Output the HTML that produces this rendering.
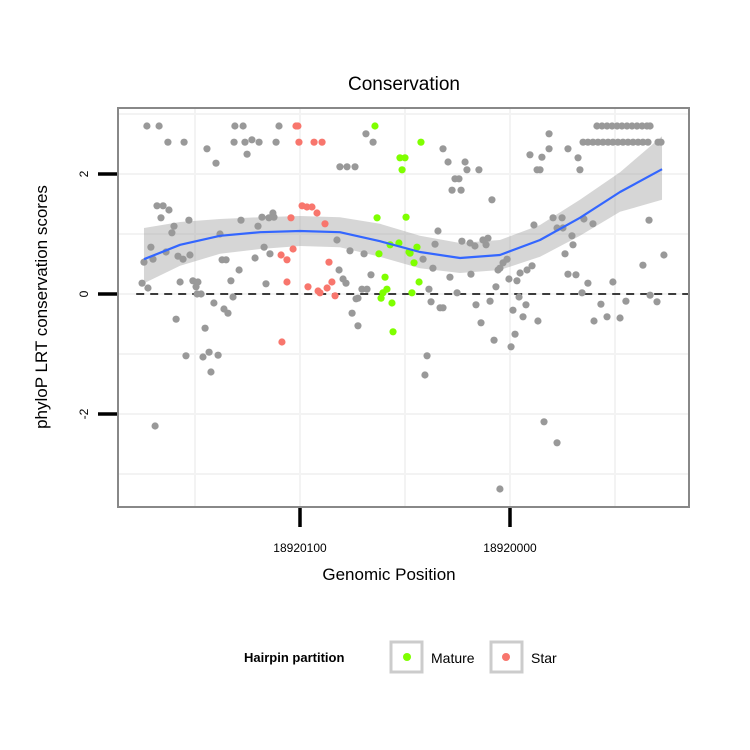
<!DOCTYPE html>
<html><head><meta charset="utf-8">
<style>
html,body{margin:0;padding:0;background:#fff;}
svg{display:block;font-family:"Liberation Sans",Arial,sans-serif;}
</style></head>
<body>
<svg id="chart" width="750" height="750" viewBox="0 0 750 750">
  <rect x="0" y="0" width="750" height="750" fill="#fff"/>
  <g id="grid"></g>
  <g id="band"></g>
  <line id="zeroline" stroke="#000" stroke-width="1.6" stroke-dasharray="8,6"/>
  <g id="pts"></g>
  <g id="fit"></g>
  <rect x="118" y="108" width="571" height="399" fill="none" stroke="#888" stroke-width="2"/>
  <g id="axes"></g>
  <text x="404" y="90" text-anchor="middle" font-size="19" fill="#000">Conservation</text>
  <text transform="translate(47,307) rotate(-90)" text-anchor="middle" font-size="17" fill="#000">phyloP LRT conservation scores</text>
  <text x="389" y="580" text-anchor="middle" font-size="17" fill="#000">Genomic Position</text>
  <g>
    <text x="244" y="662" font-size="13" font-weight="bold" fill="#000">Hairpin partition</text>
    <g>
      <rect x="391" y="642" width="31" height="30" fill="#fff" stroke="#ccc" stroke-width="3"/>
      <circle cx="407" cy="657" r="4" fill="#7FFF00"/>
      <text x="431" y="663" font-size="14" fill="#000">Mature</text>
    </g>
    <g>
      <rect x="491" y="642" width="31" height="30" fill="#fff" stroke="#ccc" stroke-width="3"/>
      <circle cx="506" cy="657" r="4" fill="#F8766D"/>
      <text x="531" y="663" font-size="14" fill="#000">Star</text>
    </g>
  </g>
</svg>
<script>
// positions are offsets from 18920000 (axis reversed)
const grayPos = [172.9,167.1,162.9,155.2,144.3,140.0,131.0,127.1,131.4,126.2,122.9,119.5,125.2,111.4,110.0,68.6,65.2,81.0,77.6,73.8,
168.1,165.2,162.4,166.2,152.9,160.0,161.0,171.0,174.3,170.0,163.8,158.1,155.7,152.4,138.1,128.1,120.0,118.1,114.8,112.9,112.4,117.1,114.3,121.4,137.1,135.2,129.0,132.9,116.2,175.2,172.4,157.1,151.0,148.6,149.5,149.0,147.1,131.9,141.0,136.2,134.3,159.0,145.2,154.3,146.2,143.3,139.0,142.4,169.0,
82.4,76.2,69.5,81.4,79.5,78.1,66.2,70.5,68.1,72.4,73.3,75.2,72.4,
31.9,29.5,21.4,20.5,14.8,26.2,24.3,27.6,23.3,8.6,-18.6,-18.6,-9.5,-15.2,-12.9,-14.3,-27.6,-32.4,-33.3,
-41.4,-43.8,-46.2,-48.6,-51.0,-53.3,-55.7,-58.1,-60.5,-62.9,-65.2,-66.7,
-34.8,-37.1,-39.5,-41.9,-44.3,-46.7,-49.0,-51.4,-53.8,-56.2,-58.6,-61.0,-63.3,-65.7,-70.5,-71.9,
34.3,35.7,41.4,36.7,28.6,38.6,37.6,33.3,31.9,25.2,18.6,16.2,13.8,7.6,39.5,40.5,22.9,19.0,16.7,12.9,10.5,11.4,1.4,3.3,4.8,5.7,6.7,9.5,0.5,-3.3,-4.8,-8.1,-10.5,-4.3,-7.6,-1.4,-6.2,-13.3,-2.4,-0.5,
-11.4,-20.5,-24.8,-22.4,-25.2,-29.5,-30.0,-26.2,-27.6,-31.4,-34.3,-35.2,-39.5,-37.1,-43.3,-40.0,-46.2,-52.4,-49.0,-55.2,-63.3,-66.2,-73.3,-66.7,-70.0,-16.2,-22.4,4.8];
const grayScore = [2.80,2.80,2.53,2.53,2.42,2.18,2.80,2.80,2.53,2.53,2.57,2.53,2.33,2.53,2.80,2.67,2.53,2.12,2.12,2.12,
1.47,1.47,1.40,1.27,1.23,1.13,1.02,0.78,0.53,0.58,0.70,0.63,0.58,0.65,1.00,1.23,1.13,1.28,1.27,1.35,1.28,0.78,0.67,0.60,0.57,0.57,0.40,0.22,0.17,0.18,0.10,0.20,0.22,0.20,0.12,0.00,0.00,-0.05,-0.15,-0.25,-0.32,-0.42,-0.57,-1.03,-1.05,-0.97,-1.02,-1.30,-2.20,
0.90,0.72,0.67,0.40,0.25,0.18,0.32,0.08,0.08,-0.07,-0.08,-0.32,-0.53,
2.42,2.20,2.20,2.07,2.07,1.92,1.92,1.73,1.73,1.57,2.67,2.42,2.32,2.28,2.07,2.07,2.42,2.27,2.07,
2.80,2.80,2.80,2.80,2.80,2.80,2.80,2.80,2.80,2.80,2.80,2.80,
2.53,2.53,2.53,2.53,2.53,2.53,2.53,2.53,2.53,2.53,2.53,2.53,2.53,2.53,2.53,2.53,
1.05,0.83,0.58,0.43,0.28,0.08,-0.13,-0.23,-0.23,0.02,0.33,-0.18,-0.48,-0.77,-1.03,-1.35,0.88,0.85,0.80,0.90,0.93,0.82,0.58,0.52,0.43,0.40,0.12,-0.12,0.25,0.22,0.35,0.40,0.47,-0.05,-0.18,-0.27,-0.38,-0.45,-0.67,-0.88,
1.15,1.27,1.27,1.10,1.10,0.97,0.82,0.67,0.33,0.32,0.02,1.25,1.17,0.18,-0.17,-0.45,-0.38,-0.40,0.20,-0.12,0.48,1.23,0.65,-0.02,-0.13,-2.13,-2.48,-3.25];
const starPos = [101.9,101.0,100.5,93.3,89.5,99.0,96.7,94.3,91.9,104.3,88.1,109.0,106.2,103.3,86.2,106.2,96.2,91.4,90.5,87.1,84.8,83.3,108.6];
const starScore = [2.80,2.80,2.53,2.53,2.53,1.47,1.45,1.45,1.35,1.27,1.17,0.65,0.57,0.75,0.53,0.20,0.12,0.05,0.02,0.10,0.20,-0.03,-0.80];
const maturePos = [64.3,52.4,50.0,51.4,63.3,49.5,62.4,57.1,52.9,59.5,58.6,60.5,61.4,56.2,55.7,48.1,42.4,44.3,47.6,45.7,43.3,46.7];
const matureScore = [2.80,2.27,2.27,2.07,1.27,1.28,0.67,0.82,0.85,0.28,0.08,0.02,-0.07,-0.15,-0.63,0.70,2.53,0.78,0.68,0.52,0.20,0.02];
const fitPos = [174.3,157.1,138.1,119.0,100.0,81.0,61.9,42.9,23.8,4.8,-14.3,-33.3,-52.4,-72.4];
const fitScore = [0.58,0.82,0.97,1.03,1.05,1.03,0.88,0.70,0.60,0.65,0.90,1.27,1.70,2.08];
const fitHi = [1.10,1.20,1.25,1.28,1.30,1.28,1.17,0.97,0.85,0.90,1.15,1.57,2.03,2.63];
const fitLo = [0.18,0.47,0.67,0.75,0.80,0.78,0.62,0.43,0.35,0.40,0.62,0.97,1.37,1.57];
const yTicks = [2,0,-2];
const yTickLabels = ["2","0","-2"];
const xTicks = [100,0];
const xTickLabels = ["18920100","18920000"];

const NS = "http://www.w3.org/2000/svg";
function sx(d){ return 510 - d*2.1; }
function sy(v){ return 294 - v*60; }
function mk(tag, attrs, parent){ const e=document.createElementNS(NS,tag); for(const k in attrs) e.setAttribute(k,attrs[k]); parent.appendChild(e); return e; }

const grid = document.getElementById('grid');
[-3,-1,1,3,2,0,-2].forEach(v=>{
  const l = mk('line',{x1:119,x2:688,y1:sy(v),y2:sy(v),stroke:'#f3f3f3','stroke-width':2},grid);
  
  
});
[150,50,-50,100,0].forEach(d=>{
  const l = mk('line',{x1:sx(d),x2:sx(d),y1:109,y2:506,stroke:'#f3f3f3','stroke-width':2},grid);
  
  
});

const band = document.getElementById('band');
let bp = fitPos.map((d,i)=>sx(d)+','+sy(fitHi[i]));
for(let i=fitPos.length-1;i>=0;i--) bp.push(sx(fitPos[i])+','+sy(fitLo[i]));
const poly = mk('polygon',{points:bp.join(' '),fill:'#999','fill-opacity':0.4},band);



const z = document.getElementById('zeroline');
z.setAttribute('x1',sx(178)); z.setAttribute('x2',sx(-85)); z.setAttribute('y1',sy(0)); z.setAttribute('y2',sy(0));

const pts = document.getElementById('pts');
function drawPts(pos,score,color,name){
  pos.forEach((d,i)=>{
    const c = mk('circle',{cx:sx(d),cy:sy(score[i]),r:3.6,fill:color},pts);
    
    
  });
}
drawPts(grayPos,grayScore,'#999999','point-other');
drawPts(starPos,starScore,'#F8766D','point-star');
drawPts(maturePos,matureScore,'#7FFF00','point-mature');

const fit = document.getElementById('fit');
const fl = mk('polyline',{points:fitPos.map((d,i)=>sx(d)+','+sy(fitScore[i])).join(' '),fill:'none',stroke:'#3366FF','stroke-width':2.2,'stroke-linejoin':'round'},fit);



const axes = document.getElementById('axes');
yTicks.forEach((v,i)=>{
  const t = mk('line',{x1:98,x2:117,y1:sy(v),y2:sy(v),stroke:'#000','stroke-width':3.5},axes);
  
  
  const lb = mk('text',{transform:'translate(88,'+sy(v)+') rotate(-90)','text-anchor':'middle','font-size':12,fill:'#000'},axes);
  lb.textContent = yTickLabels[i];
  
  
});
xTicks.forEach((d,i)=>{
  const t = mk('line',{x1:sx(d),x2:sx(d),y1:508,y2:527,stroke:'#000','stroke-width':3.5},axes);
  
  
  const lb = mk('text',{x:sx(d),y:552,'text-anchor':'middle','font-size':12,fill:'#000'},axes);
  lb.textContent = xTickLabels[i];
  
  
});
</script>
</body></html>
